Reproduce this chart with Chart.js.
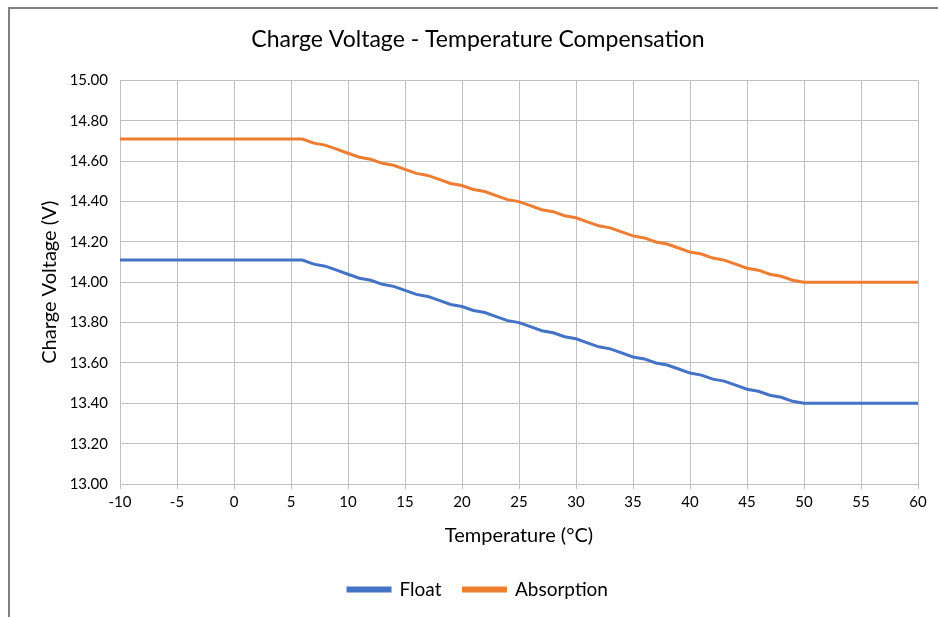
<!DOCTYPE html>
<html>
<head>
<meta charset="utf-8">
<script src="https://cdn.jsdelivr.net/npm/chart.js@4/dist/chart.umd.min.js"></script>
<style>
  body { margin: 0; background: #fff; }
  #wrap { position: relative; width: 938px; height: 617px; }
  #frame { position: absolute; left: 8px; top: 7px; right: 0; bottom: 0;
           border-top: 2px solid #808080; border-left: 2px solid #808080; }
  canvas { position: absolute; left: 0; top: 0; }
</style>
</head>
<body>
<div id="wrap">
  <div id="frame"></div>
  <canvas id="chart" width="938" height="617"></canvas>
</div>
<script>
// temperature in °C, one point per degree
var temps = [];
for (var t = -10; t <= 60; t++) temps.push(t);

var floatV = [
    14.11, 14.11, 14.11, 14.11, 14.11, 14.11, 14.11, 14.11, 14.11, 14.11, // -10..-1
    14.11, 14.11, 14.11, 14.11, 14.11, 14.11, 14.11, 14.09, 14.08, 14.06, // 0..9
    14.04, 14.02, 14.01, 13.99, 13.98, 13.96, 13.94, 13.93, 13.91, 13.89, // 10..19
    13.88, 13.86, 13.85, 13.83, 13.81, 13.80, 13.78, 13.76, 13.75, 13.73, // 20..29
    13.72, 13.70, 13.68, 13.67, 13.65, 13.63, 13.62, 13.60, 13.59, 13.57, // 30..39
    13.55, 13.54, 13.52, 13.51, 13.49, 13.47, 13.46, 13.44, 13.43, 13.41, // 40..49
    13.40, 13.40, 13.40, 13.40, 13.40, 13.40, 13.40, 13.40, 13.40, 13.40, // 50..59
    13.40                                                                  // 60
];
var absorptionV = [
    14.71, 14.71, 14.71, 14.71, 14.71, 14.71, 14.71, 14.71, 14.71, 14.71,
    14.71, 14.71, 14.71, 14.71, 14.71, 14.71, 14.71, 14.69, 14.68, 14.66,
    14.64, 14.62, 14.61, 14.59, 14.58, 14.56, 14.54, 14.53, 14.51, 14.49,
    14.48, 14.46, 14.45, 14.43, 14.41, 14.40, 14.38, 14.36, 14.35, 14.33,
    14.32, 14.30, 14.28, 14.27, 14.25, 14.23, 14.22, 14.20, 14.19, 14.17,
    14.15, 14.14, 14.12, 14.11, 14.09, 14.07, 14.06, 14.04, 14.03, 14.01,
    14.00, 14.00, 14.00, 14.00, 14.00, 14.00, 14.00, 14.00, 14.00, 14.00,
    14.00
];

function pts(vals) {
    return temps.map(function (t, i) { return { x: t, y: vals[i] }; });
}

var font = 'Lato, "Open Sans", sans-serif';
var grid = '#c0c0c0';

var ctx = document.getElementById('chart').getContext('2d');
var myChart = new Chart(ctx, {
    type: 'line',
    data: {
        datasets: [{
            label: 'Float',
            data: pts(floatV),
            borderColor: '#4472C4',
            backgroundColor: '#4472C4',
            borderWidth: 3,
            pointRadius: 0,
            tension: 0
        }, {
            label: 'Absorption',
            data: pts(absorptionV),
            borderColor: '#ED7D31',
            backgroundColor: '#ED7D31',
            borderWidth: 3,
            pointRadius: 0,
            tension: 0
        }]
    },
    options: {
        responsive: false,
        animation: false,
        layout: {
            padding: { left: 38, right: 20, top: 10, bottom: 8 }
        },
        scales: {
            x: {
                type: 'linear',
                min: -10,
                max: 60,
                ticks: { stepSize: 5, color: '#000', font: { family: font, size: 15 }, padding: 4 },
                grid: { color: grid, tickLength: 5 },
                border: { color: grid },
                title: { display: true, text: 'Temperature (°C)', color: '#000',
                         font: { family: font, size: 20 }, padding: { top: 9, bottom: 10 } }
            },
            y: {
                min: 13,
                max: 15,
                ticks: {
                    stepSize: 0.2, color: '#000', font: { family: font, size: 15 }, padding: 12,
                    callback: function (v) { return v.toFixed(2); }
                },
                grid: { color: grid, drawTicks: false },
                border: { color: grid },
                title: { display: true, text: 'Charge Voltage (V)', color: '#000',
                         font: { family: font, size: 20 }, padding: { top: 0, bottom: 0 } },
                afterFit: function (s) { s.width = 82; }
            }
        },
        plugins: {
            title: {
                display: true,
                text: 'Charge Voltage - Temperature Compensation',
                color: '#000',
                font: { family: font, size: 23, weight: 'normal' },
                padding: { top: 16, bottom: 27 }
            },
            legend: {
                position: 'bottom',
                labels: { boxWidth: 42, boxHeight: 3, color: '#000', font: { family: font, size: 19 }, padding: 22 }
            },
            tooltip: { enabled: false }
        }
    }
});
</script>
</body>
</html>
